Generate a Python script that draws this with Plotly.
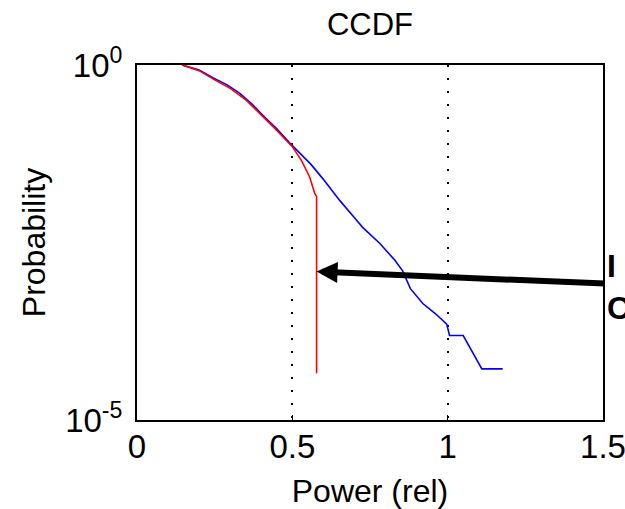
import plotly.graph_objects as go

# Unclipped (blue) CCDF
blue_power = [0.145, 0.20, 0.244, 0.29, 0.331, 0.37, 0.405, 0.45, 0.492, 0.52, 0.56, 0.598,
              0.653, 0.70, 0.727, 0.781, 0.83, 0.855, 0.88, 0.92, 0.96, 0.997, 1.006, 1.05,
              1.11, 1.177]
blue_prob = [1.0, 0.851, 0.661, 0.525, 0.398, 0.282, 0.195, 0.126, 0.0794, 0.0603, 0.0398, 0.0251,
             0.0123, 0.00708, 0.00513, 0.00309, 0.00178, 0.00126, 0.000708, 0.000437, 0.000316,
             0.000224, 0.000155, 0.000155, 5.25e-5, 5.25e-5]

# Clipped (red) CCDF
red_power = [0.145, 0.20, 0.25, 0.30, 0.35, 0.40, 0.45, 0.50, 0.53, 0.556, 0.572, 0.578, 0.578]
red_prob = [1.0, 0.832, 0.617, 0.468, 0.324, 0.200, 0.120, 0.0708, 0.0447, 0.0263, 0.0155,
            0.0141, 4.57e-5]

x_ticks = [0, 0.5, 1, 1.5]
x_ticktext = ["0", "0.5", "1", "1.5"]
y_ticks = [1, 1e-5]
y_ticktext = ["10<sup>0</sup>", "10<sup>-5</sup>"]

font_family = "Liberation Sans, Arial, sans-serif"

fig = go.Figure()
fig.add_trace(go.Scatter(x=blue_power, y=blue_prob, mode="lines",
                         line=dict(color="#0000FF", width=1.6), showlegend=False))
fig.add_trace(go.Scatter(x=red_power, y=red_prob, mode="lines",
                         line=dict(color="#FF0000", width=1.6), showlegend=False))

# arrow
fig.add_annotation(x=0.578, y=-2.91, xref="x", yref="y",
                   ax=1.511, ay=-3.08, axref="x", ayref="y",
                   showarrow=True, arrowhead=2, arrowsize=0.7, arrowwidth=6,
                   arrowcolor="black", text="")
# label text (cut off by the right edge, as in the original)
fig.add_annotation(x=1.005, y=0.375, xref="paper", yref="paper",
                   xanchor="left", yanchor="middle", align="left",
                   text="<b>I<br>C</b>", showarrow=False,
                   font=dict(family=font_family, size=32, color="black"))

fig.update_layout(
    width=625, height=509,
    margin=dict(l=137, r=22, t=65, b=89),
    paper_bgcolor="white", plot_bgcolor="white",
    font=dict(family=font_family, size=33, color="black"),
    title=dict(text="CCDF", x=0.5, xanchor="center", y=0.953, yanchor="middle",
               xref="paper", font=dict(size=31)),
    xaxis=dict(range=[0, 1.5], tickvals=x_ticks, ticktext=x_ticktext,
               showline=True, linecolor="black", linewidth=2, mirror=True,
               ticks="inside", ticklen=5, tickcolor="black",
               showgrid=True, gridcolor="black", griddash="2px,11px", gridwidth=2,
               zeroline=False, ticklabelstandoff=-4, automargin=False,
               ticklabeloverflow="allow",
               tickfont=dict(size=33),
               title=dict(text="Power (rel)", standoff=18, font=dict(size=32))),
    yaxis=dict(type="log", range=[-5, 0], tickvals=y_ticks, ticktext=y_ticktext,
               showline=True, linecolor="black", linewidth=2, mirror=True,
               ticks="", showgrid=False, zeroline=False, automargin=False,
               ticklabelstandoff=6, tickfont=dict(size=33),
               title=dict(text="Probability", standoff=10, font=dict(size=32))),
)

fig.write_html("out.html")
